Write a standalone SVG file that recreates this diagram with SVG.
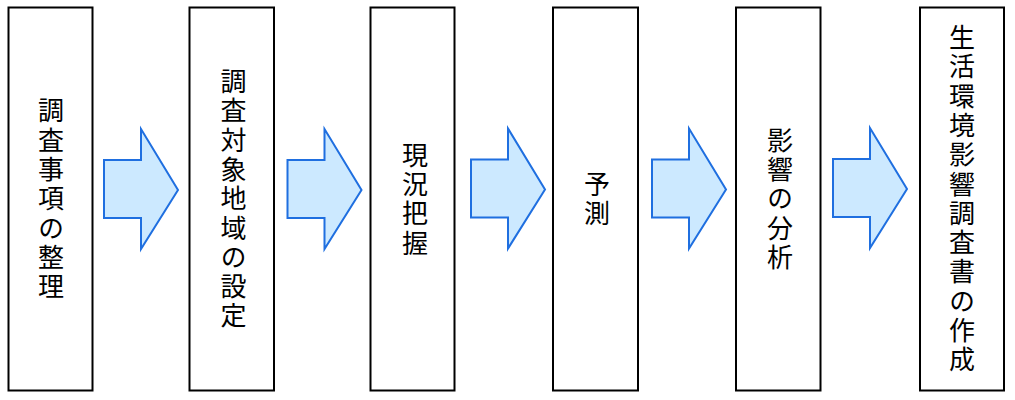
<svg xmlns="http://www.w3.org/2000/svg" width="1015" height="400" viewBox="0 0 1015 400">
<style>
.box{fill:#ffffff;stroke:#000000;stroke-width:2}
.arr{fill:#cce9ff;stroke:#1f6fe0;stroke-width:2;stroke-linejoin:miter}
.lbl{font-family:"Noto Sans CJK JP","Noto Sans CJK SC",sans-serif;font-size:26px;fill:#000000;text-anchor:middle;writing-mode:vertical-rl;letter-spacing:3.3px}
</style>
<defs>
<path id="arrowShape" d="M0,31 L37,31 L37,0 L74,61 L37,120 L37,89 L0,89 Z"/>
</defs>
<rect width="1015" height="400" fill="#ffffff"/>
<g id="connectors">
<use href="#arrowShape" class="arr" x="104" y="129"/>
<use href="#arrowShape" class="arr" x="287.5" y="129"/>
<use href="#arrowShape" class="arr" x="471" y="128.5"/>
<use href="#arrowShape" class="arr" x="652" y="128.5"/>
<use href="#arrowShape" class="arr" x="833" y="128"/>
</g>
<g id="node1">
<rect class="box" x="8.5" y="7.5" width="84" height="383"/>
<text class="lbl" x="51" y="200">調査事項の整理</text>
</g>
<g id="node2">
<rect class="box" x="189.5" y="7.5" width="84.5" height="383"/>
<text class="lbl" x="233.5" y="200">調査対象地域の設定</text>
</g>
<g id="node3">
<rect class="box" x="370.5" y="7.5" width="84" height="383"/>
<text class="lbl" x="415" y="200.5">現況把握</text>
</g>
<g id="node4">
<rect class="box" x="553" y="7.5" width="85" height="383"/>
<text class="lbl" x="597" y="200.5">予測</text>
</g>
<g id="node5">
<rect class="box" x="736" y="7.5" width="84.5" height="383"/>
<text class="lbl" x="780" y="200">影響の分析</text>
</g>
<g id="node6">
<rect class="box" x="920" y="7.5" width="84" height="383"/>
<text class="lbl" x="962" y="200">生活環境影響調査書の作成</text>
</g>
</svg>
